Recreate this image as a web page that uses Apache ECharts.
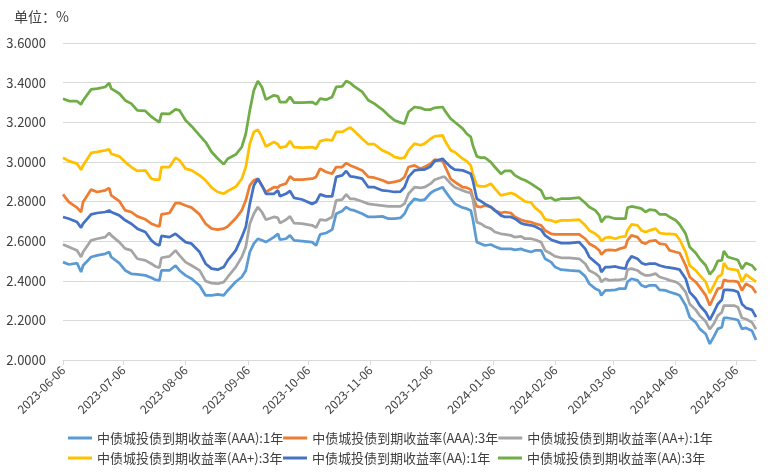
<!DOCTYPE html>
<html>
<head>
<meta charset="utf-8">
<script src="https://cdn.jsdelivr.net/npm/echarts@6/dist/echarts.min.js"></script>
<style>html,body{margin:0;padding:0;background:#fff;}#c{width:777px;height:474px;}</style>
</head>
<body>
<div id="c"></div>
<script>
var startDay = '2023-06-06';
var endDay = '2024-05-16';
var seriesNames = ['中债城投债到期收益率(AAA):1年','中债城投债到期收益率(AAA):3年','中债城投债到期收益率(AA+):1年','中债城投债到期收益率(AA+):3年','中债城投债到期收益率(AA):1年','中债城投债到期收益率(AA):3年'];
var yTicks = [2.0, 2.2, 2.4, 2.6, 2.8, 3.0, 3.2, 3.4, 3.6];

var dates = [
'2023-06-06','2023-06-09','2023-06-13','2023-06-15','2023-06-16','2023-06-20','2023-06-23','2023-06-27','2023-06-29','2023-06-30',
'2023-07-04','2023-07-07','2023-07-10','2023-07-13','2023-07-17','2023-07-20','2023-07-22','2023-07-24','2023-07-25','2023-07-29',
'2023-08-01','2023-08-03','2023-08-06','2023-08-09','2023-08-13','2023-08-16','2023-08-19','2023-08-22','2023-08-25','2023-08-27',
'2023-08-31','2023-09-03','2023-09-05','2023-09-07','2023-09-09','2023-09-11','2023-09-13','2023-09-15','2023-09-19','2023-09-21',
'2023-09-22','2023-09-25','2023-09-27','2023-09-29','2023-10-03','2023-10-08','2023-10-10','2023-10-12','2023-10-15','2023-10-18',
'2023-10-20','2023-10-23','2023-10-25','2023-10-27','2023-10-29','2023-11-02','2023-11-05','2023-11-08','2023-11-12','2023-11-15',
'2023-11-18','2023-11-21','2023-11-23','2023-11-25','2023-11-28','2023-12-01','2023-12-03','2023-12-06','2023-12-08','2023-12-12',
'2023-12-13','2023-12-16','2023-12-18','2023-12-22','2023-12-24','2023-12-26','2023-12-27','2023-12-29','2023-12-31','2024-01-02',
'2024-01-05','2024-01-07','2024-01-10','2024-01-12','2024-01-15','2024-01-17','2024-01-20','2024-01-22','2024-01-25','2024-01-27',
'2024-01-30','2024-02-01','2024-02-04','2024-02-06','2024-02-09','2024-02-13','2024-02-18','2024-02-21','2024-02-23','2024-02-26',
'2024-02-28','2024-02-29','2024-03-02','2024-03-04','2024-03-07','2024-03-09','2024-03-12','2024-03-13','2024-03-15','2024-03-18',
'2024-03-20','2024-03-22','2024-03-24','2024-03-27','2024-03-29','2024-04-01','2024-04-03','2024-04-06','2024-04-08','2024-04-11',
'2024-04-13','2024-04-16','2024-04-18','2024-04-21','2024-04-23','2024-04-25','2024-04-27','2024-04-29','2024-04-30','2024-05-02',
'2024-05-05','2024-05-07','2024-05-09','2024-05-11','2024-05-14','2024-05-16'
];

var aaa1y = [
2.494,2.482,2.489,2.444,2.477,2.520,2.528,2.536,2.545,2.520,
2.489,2.452,2.435,2.432,2.427,2.415,2.405,2.402,2.452,2.452,
2.477,2.452,2.427,2.410,2.376,2.326,2.326,2.331,2.326,2.351,
2.395,2.419,2.452,2.545,2.587,2.612,2.604,2.595,2.620,2.637,
2.607,2.612,2.629,2.604,2.600,2.595,2.578,2.634,2.641,2.658,
2.738,2.752,2.772,2.759,2.755,2.738,2.722,2.722,2.725,2.713,
2.713,2.717,2.738,2.780,2.814,2.806,2.809,2.843,2.856,2.872,
2.856,2.814,2.789,2.769,2.764,2.755,2.713,2.595,2.587,2.578,
2.583,2.573,2.561,2.561,2.561,2.556,2.561,2.553,2.545,2.553,
2.553,2.511,2.494,2.469,2.456,2.452,2.449,2.422,2.385,2.360,
2.351,2.326,2.351,2.351,2.354,2.360,2.360,2.394,2.410,2.402,
2.377,2.368,2.377,2.377,2.354,2.351,2.343,2.334,2.326,2.275,
2.216,2.190,2.157,2.131,2.081,2.118,2.157,2.165,2.212,2.212,
2.207,2.202,2.157,2.162,2.148,2.101
];
var aaa3y = [
2.836,2.797,2.769,2.747,2.797,2.860,2.848,2.856,2.868,2.831,
2.802,2.755,2.747,2.725,2.710,2.688,2.680,2.674,2.735,2.742,
2.792,2.792,2.780,2.769,2.735,2.688,2.663,2.658,2.663,2.674,
2.715,2.755,2.806,2.881,2.907,2.915,2.881,2.848,2.872,2.870,
2.881,2.890,2.927,2.910,2.910,2.915,2.924,2.966,2.949,2.940,
2.974,2.974,2.994,2.982,2.974,2.957,2.924,2.920,2.907,2.894,
2.899,2.907,2.924,2.974,2.982,2.966,2.974,2.991,3.011,3.004,
2.982,2.915,2.899,2.872,2.870,2.860,2.822,2.775,2.772,2.780,
2.772,2.755,2.742,2.747,2.742,2.722,2.708,2.701,2.696,2.688,
2.680,2.654,2.637,2.634,2.634,2.634,2.634,2.612,2.587,2.570,
2.553,2.533,2.553,2.556,2.553,2.561,2.570,2.604,2.629,2.620,
2.595,2.587,2.600,2.604,2.587,2.583,2.553,2.545,2.540,2.477,
2.419,2.394,2.368,2.326,2.275,2.318,2.360,2.365,2.405,2.398,
2.398,2.394,2.351,2.385,2.368,2.338
];
var aap1y = [
2.583,2.570,2.553,2.520,2.545,2.604,2.612,2.620,2.641,2.629,
2.595,2.562,2.553,2.511,2.503,2.486,2.472,2.466,2.516,2.523,
2.553,2.528,2.494,2.477,2.452,2.398,2.388,2.385,2.393,2.419,
2.469,2.520,2.570,2.688,2.738,2.772,2.747,2.708,2.722,2.717,
2.691,2.708,2.725,2.691,2.688,2.680,2.668,2.708,2.705,2.722,
2.806,2.810,2.836,2.813,2.813,2.800,2.788,2.784,2.779,2.775,
2.775,2.775,2.789,2.839,2.872,2.869,2.872,2.890,2.910,2.924,
2.924,2.890,2.872,2.856,2.848,2.843,2.814,2.696,2.688,2.674,
2.663,2.646,2.637,2.634,2.629,2.620,2.624,2.612,2.612,2.607,
2.595,2.553,2.536,2.523,2.516,2.516,2.511,2.486,2.452,2.436,
2.419,2.394,2.410,2.402,2.405,2.405,2.410,2.456,2.461,2.452,
2.436,2.427,2.427,2.436,2.419,2.410,2.402,2.394,2.382,2.343,
2.283,2.253,2.224,2.194,2.155,2.183,2.224,2.241,2.275,2.275,
2.275,2.266,2.212,2.207,2.190,2.155
];
var aap3y = [
3.021,3.004,2.991,2.960,2.982,3.045,3.050,3.058,3.063,3.041,
3.028,2.999,2.974,2.954,2.957,2.915,2.910,2.910,2.974,2.974,
3.021,3.008,2.966,2.957,2.932,2.907,2.870,2.848,2.840,2.853,
2.874,2.915,2.974,3.092,3.151,3.163,3.126,3.078,3.100,3.089,
3.072,3.078,3.105,3.075,3.072,3.075,3.067,3.105,3.112,3.109,
3.151,3.151,3.163,3.173,3.156,3.117,3.089,3.089,3.058,3.045,
3.025,3.018,3.021,3.058,3.092,3.084,3.092,3.117,3.129,3.134,
3.109,3.058,3.050,3.016,3.004,2.982,2.940,2.881,2.876,2.876,
2.890,2.865,2.831,2.836,2.843,2.836,2.814,2.800,2.795,2.769,
2.744,2.710,2.705,2.696,2.705,2.705,2.708,2.680,2.654,2.637,
2.620,2.600,2.617,2.620,2.612,2.620,2.624,2.654,2.684,2.680,
2.654,2.646,2.654,2.663,2.641,2.637,2.637,2.634,2.607,2.545,
2.477,2.452,2.427,2.394,2.338,2.377,2.419,2.432,2.490,2.461,
2.456,2.452,2.394,2.432,2.410,2.394
];
var aa1y = [
2.722,2.713,2.696,2.668,2.688,2.735,2.742,2.747,2.755,2.747,
2.730,2.705,2.688,2.663,2.646,2.604,2.587,2.578,2.626,2.620,
2.637,2.620,2.595,2.587,2.545,2.486,2.461,2.456,2.469,2.503,
2.553,2.620,2.671,2.788,2.881,2.915,2.881,2.839,2.839,2.856,
2.826,2.839,2.853,2.818,2.810,2.788,2.797,2.836,2.826,2.826,
2.924,2.932,2.954,2.927,2.924,2.915,2.872,2.872,2.856,2.853,
2.848,2.850,2.872,2.924,2.957,2.961,2.961,2.977,3.004,3.016,
3.004,2.974,2.961,2.957,2.949,2.940,2.907,2.814,2.802,2.788,
2.772,2.755,2.730,2.722,2.722,2.713,2.691,2.684,2.680,2.674,
2.658,2.629,2.607,2.600,2.590,2.590,2.595,2.561,2.520,2.494,
2.477,2.444,2.469,2.469,2.472,2.466,2.461,2.494,2.523,2.511,
2.490,2.482,2.486,2.486,2.477,2.469,2.466,2.461,2.456,2.410,
2.343,2.309,2.275,2.241,2.202,2.241,2.283,2.304,2.354,2.354,
2.351,2.343,2.283,2.263,2.253,2.216
];
var aa3y = [
3.319,3.307,3.306,3.290,3.310,3.366,3.370,3.378,3.398,3.370,
3.345,3.310,3.294,3.260,3.257,3.228,3.213,3.200,3.243,3.242,
3.265,3.260,3.210,3.180,3.134,3.100,3.050,3.017,2.988,3.016,
3.037,3.075,3.142,3.260,3.361,3.408,3.378,3.314,3.336,3.331,
3.302,3.302,3.328,3.299,3.299,3.302,3.290,3.319,3.314,3.328,
3.378,3.381,3.408,3.398,3.381,3.353,3.311,3.294,3.264,3.235,
3.210,3.198,3.193,3.252,3.277,3.273,3.264,3.264,3.273,3.277,
3.260,3.218,3.201,3.168,3.142,3.126,3.084,3.028,3.021,3.021,
2.999,2.974,2.940,2.954,2.954,2.932,2.915,2.907,2.890,2.876,
2.856,2.814,2.819,2.806,2.814,2.814,2.819,2.792,2.772,2.755,
2.730,2.696,2.722,2.722,2.713,2.713,2.713,2.769,2.775,2.769,
2.764,2.747,2.759,2.755,2.735,2.735,2.722,2.705,2.684,2.637,
2.570,2.540,2.511,2.477,2.432,2.456,2.500,2.503,2.550,2.520,
2.511,2.505,2.460,2.490,2.477,2.452
];

var colors = ['#5B9BD5','#ED7D31','#A5A5A5','#FFC000','#4472C4','#70AD47'];
var valueSets = [aaa1y, aaa3y, aap1y, aap3y, aa1y, aa3y];

function fmt(d){
  var m = d.getUTCMonth()+1, day = d.getUTCDate();
  return d.getUTCFullYear()+'-'+(m<10?'0':'')+m+'-'+(day<10?'0':'')+day;
}
var allDays = [];
(function(){
  var d = new Date(startDay+'T00:00:00Z');
  var e = new Date(endDay+'T00:00:00Z');
  while (d <= e) { allDays.push(fmt(d)); d = new Date(d.getTime()+86400000); }
})();
var dayIndex = {};
allDays.forEach(function(s,i){ dayIndex[s]=i; });

function fullSeries(vals){
  var arr = allDays.map(function(){ return null; });
  dates.forEach(function(dt,i){ arr[dayIndex[dt]] = vals[i]; });
  return arr;
}
var isSixth = function(idx, val){ return /-06$/.test(val); };

var font = '"Noto Sans CJK SC", "Noto Sans", sans-serif';
var chart = echarts.init(document.getElementById('c'), null, {renderer:'canvas'});
chart.setOption({
  animation: false,
  color: colors,
  textStyle: {fontFamily: font},
  title: {text: '单位：%', left: 14, top: 10, padding: 0, textStyle: {fontSize: 14, fontWeight: 'normal', color: '#404040', fontFamily: font}},
  grid: {left: 63, right: 21, top: 43, bottom: 114, containLabel: false},
  xAxis: {
    type: 'category', data: allDays, boundaryGap: false,
    axisLine: {lineStyle: {color: '#d9d9d9', width: 1}},
    axisTick: {show: true, interval: isSixth, length: 5, lineStyle: {color: '#d9d9d9'}},
    axisLabel: {interval: isSixth, rotate: 45, fontSize: 12, color: '#404040', margin: 8, fontFamily: font},
    splitLine: {show: false}
  },
  yAxis: {
    type: 'value', min: yTicks[0], max: yTicks[yTicks.length-1], interval: 0.2,
    axisLine: {show: false}, axisTick: {show: false},
    axisLabel: {formatter: function(v){ return v.toFixed(4); }, fontSize: 13, color: '#404040', margin: 17, fontFamily: font},
    splitLine: {lineStyle: {color: '#d9d9d9', width: 1}}
  },
  legend: {
    left: 68, top: 428, width: 660, padding: 0, itemGap: 0, itemWidth: 24, itemHeight: 3, icon: 'rect',
    textStyle: {fontSize: 13, color: '#404040', width: 186, lineHeight: 20, fontFamily: font},
    data: seriesNames
  },
  series: seriesNames.map(function(n,i){
    return {name: n, type: 'line', data: fullSeries(valueSets[i]), connectNulls: true,
            showSymbol: false, symbol: 'none', lineStyle: {width: 2.75, color: colors[i]}, itemStyle: {color: colors[i]}};
  })
});
</script>
</body>
</html>
